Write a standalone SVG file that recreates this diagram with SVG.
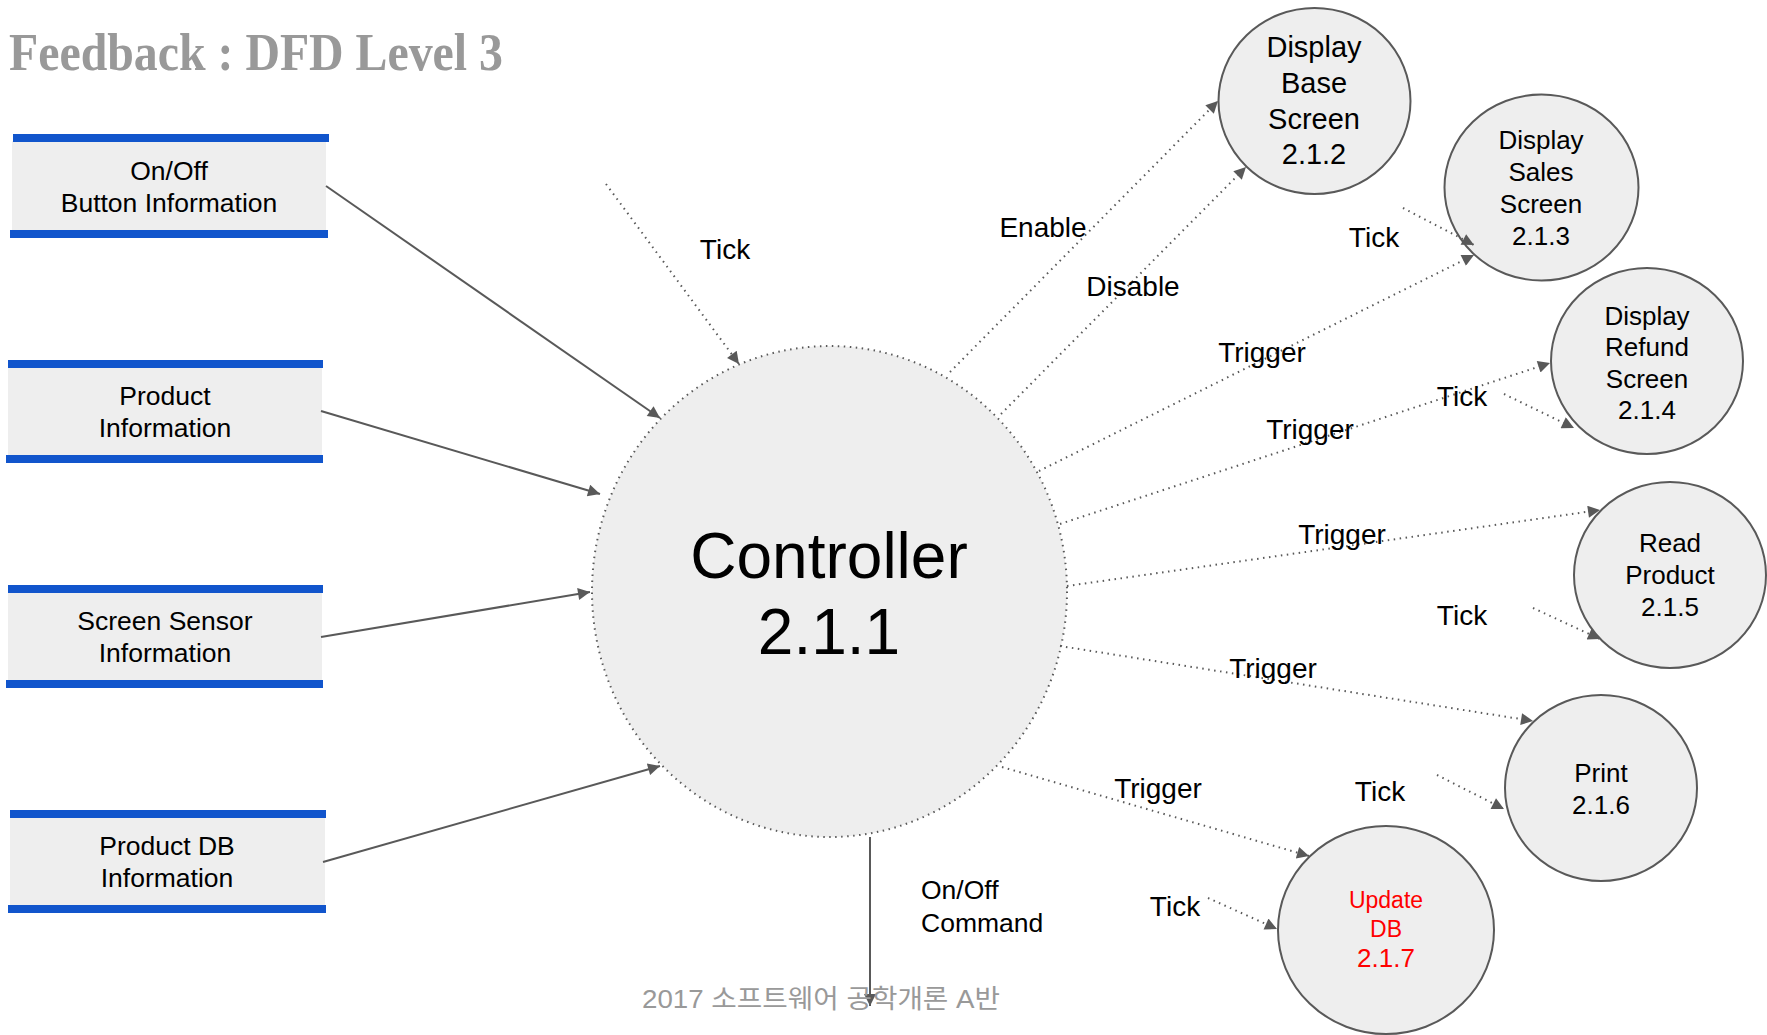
<svg xmlns="http://www.w3.org/2000/svg" width="1767" height="1035" viewBox="0 0 1767 1035">
<style>
.t{font-family:"Liberation Sans",Arial,sans-serif;fill:#000;text-anchor:middle}
.box{fill:#eeeeee}
.bar{fill:#1155cc}
.proc{fill:#eeeeee;stroke:#595959;stroke-width:2}
.solid{stroke:#595959;stroke-width:2;fill:none}
.dot{stroke:#595959;stroke-width:2;fill:none;stroke-dasharray:1.5 4.5}
.lbl{font-family:"Liberation Sans",Arial,sans-serif;font-size:28px;fill:#000;text-anchor:middle}
.st{font-size:26.5px}
</style>
<defs>
<marker id="ah" viewBox="0 0 10 10" refX="10" refY="5" markerWidth="16" markerHeight="12" markerUnits="userSpaceOnUse" orient="auto"><path d="M0,0 L10,5 L0,10 z" fill="#595959"/></marker>
</defs>
<rect width="1767" height="1035" fill="#ffffff"/>
<text x="9" y="70" font-family="'Liberation Serif','Times New Roman',serif" font-weight="bold" font-size="52" fill="#999999" textLength="494" lengthAdjust="spacingAndGlyphs">Feedback : DFD Level 3</text>

<g id="store1">
<rect class="box" x="12" y="141" width="314" height="90"/>
<rect class="bar" x="13" y="134" width="316" height="8"/>
<rect class="bar" x="10" y="230" width="318" height="8"/>
<text class="t st" x="169" y="180">On/Off</text>
<text class="t st" x="169" y="212">Button Information</text>
</g>
<g id="store2">
<rect class="box" x="8" y="367" width="314" height="90"/>
<rect class="bar" x="8" y="360" width="315" height="8"/>
<rect class="bar" x="6" y="455" width="317" height="8"/>
<text class="t st" x="165" y="405">Product</text>
<text class="t st" x="165" y="437">Information</text>
</g>
<g id="store3">
<rect class="box" x="8" y="592" width="314" height="90"/>
<rect class="bar" x="8" y="585" width="315" height="8"/>
<rect class="bar" x="6" y="680" width="317" height="8"/>
<text class="t st" x="165" y="630">Screen Sensor</text>
<text class="t st" x="165" y="662">Information</text>
</g>
<g id="store4">
<rect class="box" x="10" y="817" width="315" height="90"/>
<rect class="bar" x="10" y="810" width="316" height="8"/>
<rect class="bar" x="8" y="905" width="318" height="8"/>
<text class="t st" x="167" y="855">Product DB</text>
<text class="t st" x="167" y="887">Information</text>
</g>

<g id="controller">
<ellipse cx="829.5" cy="591.5" rx="237.5" ry="245.5" fill="#eeeeee" stroke="#595959" stroke-width="2" stroke-dasharray="1.5 4.5"/>
<text class="t" font-size="64" x="829" y="578">Controller</text>
<text class="t" font-size="64" x="829" y="654">2.1.1</text>
</g>

<g id="p212">
<ellipse class="proc" cx="1314.5" cy="101" rx="96" ry="93"/>
<text class="t" font-size="29" x="1314" y="57">Display</text>
<text class="t" font-size="29" x="1314" y="93">Base</text>
<text class="t" font-size="29" x="1314" y="129">Screen</text>
<text class="t" font-size="29" x="1314" y="164">2.1.2</text>
</g>
<g id="p213">
<ellipse class="proc" cx="1541.5" cy="187.5" rx="97" ry="93"/>
<text class="t" font-size="26" x="1541" y="149">Display</text>
<text class="t" font-size="26" x="1541" y="181">Sales</text>
<text class="t" font-size="26" x="1541" y="213">Screen</text>
<text class="t" font-size="26" x="1541" y="245">2.1.3</text>
</g>
<g id="p214">
<ellipse class="proc" cx="1647" cy="361" rx="96" ry="93"/>
<text class="t" font-size="26" x="1647" y="325">Display</text>
<text class="t" font-size="26" x="1647" y="356">Refund</text>
<text class="t" font-size="26" x="1647" y="388">Screen</text>
<text class="t" font-size="26" x="1647" y="419">2.1.4</text>
</g>
<g id="p215">
<ellipse class="proc" cx="1670" cy="575" rx="96" ry="93"/>
<text class="t" font-size="26" x="1670" y="552">Read</text>
<text class="t" font-size="26" x="1670" y="584">Product</text>
<text class="t" font-size="26" x="1670" y="616">2.1.5</text>
</g>
<g id="p216">
<ellipse class="proc" cx="1601" cy="788" rx="96" ry="93"/>
<text class="t" font-size="26" x="1601" y="782">Print</text>
<text class="t" font-size="26" x="1601" y="814">2.1.6</text>
</g>
<g id="p217">
<ellipse class="proc" cx="1386" cy="930" rx="108" ry="104"/>
<text class="t" font-size="23" x="1386" y="908" style="fill:#ff0000">Update</text>
<text class="t" font-size="23" x="1386" y="937" style="fill:#ff0000">DB</text>
<text class="t" font-size="26" x="1386" y="967" style="fill:#ff0000">2.1.7</text>
</g>

<g id="connectors">
<line class="solid" x1="326" y1="186" x2="660" y2="418" marker-end="url(#ah)"/>
<line class="solid" x1="321" y1="411" x2="600" y2="494" marker-end="url(#ah)"/>
<line class="solid" x1="321" y1="637" x2="590" y2="592" marker-end="url(#ah)"/>
<line class="solid" x1="323" y1="862" x2="660" y2="766" marker-end="url(#ah)"/>
<line class="solid" x1="870" y1="837" x2="870" y2="1006" marker-end="url(#ah)"/>
<line class="dot" x1="606" y1="184" x2="739" y2="364" marker-end="url(#ah)"/>
<line class="dot" x1="950" y1="372" x2="1218" y2="101" marker-end="url(#ah)"/>
<line class="dot" x1="1001" y1="414" x2="1246" y2="167" marker-end="url(#ah)"/>
<line class="dot" x1="1403" y1="208" x2="1474" y2="245" marker-end="url(#ah)"/>
<line class="dot" x1="1039" y1="471" x2="1474" y2="255" marker-end="url(#ah)"/>
<line class="dot" x1="1060" y1="524" x2="1550" y2="363" marker-end="url(#ah)"/>
<line class="dot" x1="1504" y1="394" x2="1574" y2="428" marker-end="url(#ah)"/>
<line class="dot" x1="1067" y1="586" x2="1600" y2="510" marker-end="url(#ah)"/>
<line class="dot" x1="1533" y1="608" x2="1600" y2="639" marker-end="url(#ah)"/>
<line class="dot" x1="1060" y1="646" x2="1533" y2="721" marker-end="url(#ah)"/>
<line class="dot" x1="1437" y1="775" x2="1504" y2="809" marker-end="url(#ah)"/>
<line class="dot" x1="1002" y1="767" x2="1309" y2="856" marker-end="url(#ah)"/>
<line class="dot" x1="1208" y1="898" x2="1277" y2="929" marker-end="url(#ah)"/>
</g>

<g id="labels">
<text class="lbl" x="725" y="259">Tick</text>
<text class="lbl" x="1043" y="237">Enable</text>
<text class="lbl" x="1133" y="296">Disable</text>
<text class="lbl" x="1374" y="247">Tick</text>
<text class="lbl" x="1262" y="362">Trigger</text>
<text class="lbl" x="1310" y="439">Trigger</text>
<text class="lbl" x="1462" y="406">Tick</text>
<text class="lbl" x="1342" y="544">Trigger</text>
<text class="lbl" x="1462" y="625">Tick</text>
<text class="lbl" x="1273" y="678">Trigger</text>
<text class="lbl" x="1158" y="798">Trigger</text>
<text class="lbl" x="1380" y="801">Tick</text>
<text class="lbl" x="1175" y="916">Tick</text>
<text class="lbl" x="921" y="899" style="text-anchor:start;font-size:26.5px">On/Off</text>
<text class="lbl" x="921" y="932" style="text-anchor:start;font-size:26.5px">Command</text>
</g>
<text x="642" y="1008" font-family="'Liberation Sans','Noto Sans CJK KR',sans-serif" font-size="26" fill="#999999" textLength="358" lengthAdjust="spacingAndGlyphs">2017 소프트웨어 공학개론 A반</text>
</svg>
